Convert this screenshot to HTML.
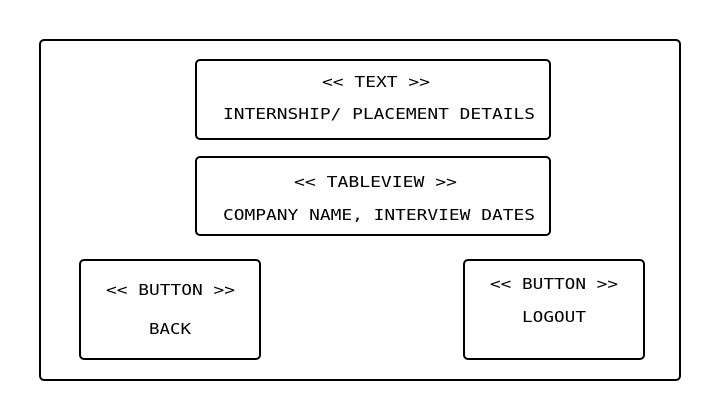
<!DOCTYPE html>
<html><head><style>html,body{margin:0;padding:0;background:#fff}svg{display:block}</style></head>
<body>
<svg width="720" height="420" xmlns="http://www.w3.org/2000/svg">
<g fill="none" stroke="#000" stroke-width="2">
<rect x="40" y="40" width="640" height="340" rx="4"/>
<rect x="196" y="60" width="354" height="79" rx="4"/>
<rect x="196" y="157" width="354" height="78" rx="4"/>
<rect x="80" y="260" width="180" height="99" rx="4"/>
<rect x="464" y="260" width="180" height="99" rx="4"/>
</g>
<g font-family="DejaVu Sans Mono, monospace" font-size="15" fill="#000" text-anchor="middle">
<text x="376" y="87" textLength="108" lengthAdjust="spacingAndGlyphs">&lt;&lt; TEXT &gt;&gt;</text>
<text x="379" y="119" textLength="312" lengthAdjust="spacingAndGlyphs">INTERNSHIP/ PLACEMENT DETAILS</text>
<text x="375.5" y="187" textLength="163" lengthAdjust="spacingAndGlyphs">&lt;&lt; TABLEVIEW &gt;&gt;</text>
<text x="379" y="220" textLength="312" lengthAdjust="spacingAndGlyphs">COMPANY NAME, INTERVIEW DATES</text>
<text x="170.5" y="295" textLength="129" lengthAdjust="spacingAndGlyphs">&lt;&lt; BUTTON &gt;&gt;</text>
<text x="170" y="334" textLength="42" lengthAdjust="spacingAndGlyphs">BACK</text>
<text x="554" y="289" textLength="128" lengthAdjust="spacingAndGlyphs">&lt;&lt; BUTTON &gt;&gt;</text>
<text x="554" y="322" textLength="64" lengthAdjust="spacingAndGlyphs">LOGOUT</text>
</g>
</svg>
</body></html>
